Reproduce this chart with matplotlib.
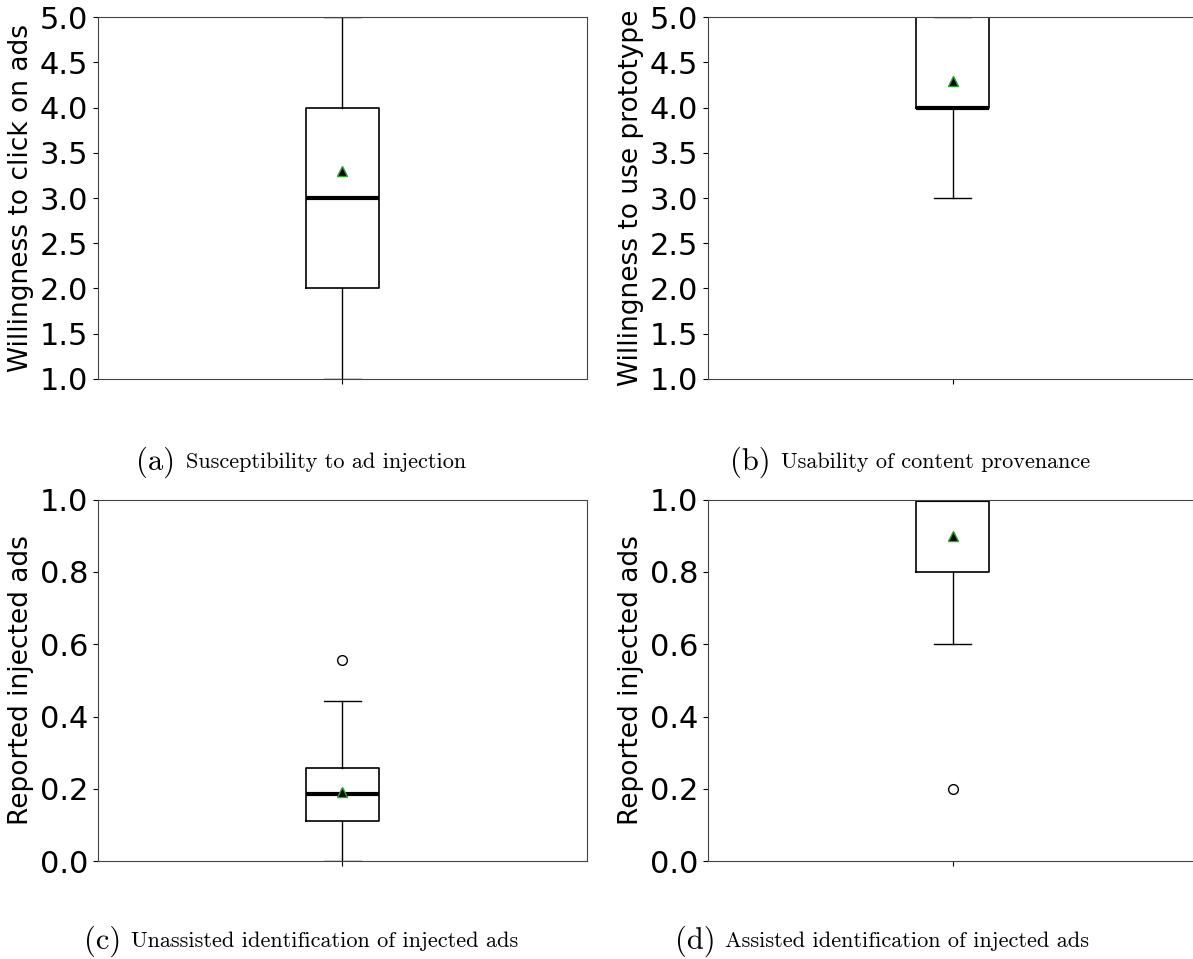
import matplotlib.pyplot as plt

# Five-number summaries, means and outliers for each survey question
panel_ids = ['(a)', '(b)', '(c)', '(d)']
captions = ['Susceptibility to ad injection',
            'Usability of content provenance',
            'Unassisted identification of injected ads',
            'Assisted identification of injected ads']
ylabels = ['Willingness to click on ads',
           'Willingness to use prototype',
           'Reported injected ads',
           'Reported injected ads']

whislo = [1.0, 3.0, 0.0, 0.6]
q1 = [2.0, 4.0, 0.111, 0.8]
med = [3.0, 4.0, 0.185, 1.0]
q3 = [4.0, 5.0, 0.259, 1.0]
whishi = [5.0, 5.0, 0.444, 1.0]
means = [3.3, 4.3, 0.19, 0.9]
fliers = [[], [], [0.556], [0.2]]

ylims = [(1.0, 5.0), (1.0, 5.0), (0.0, 1.0), (0.0, 1.0)]
yticks = [[1.0, 1.5, 2.0, 2.5, 3.0, 3.5, 4.0, 4.5, 5.0],
          [1.0, 1.5, 2.0, 2.5, 3.0, 3.5, 4.0, 4.5, 5.0],
          [0.0, 0.2, 0.4, 0.6, 0.8, 1.0],
          [0.0, 0.2, 0.4, 0.6, 0.8, 1.0]]

W, H = 1193, 959
fig = plt.figure(figsize=(W / 100, H / 100), dpi=100)

axes_rects = [
    [0.082, 0.605, 0.410, 0.377],
    [0.5935, 0.605, 0.410, 0.377],
    [0.082, 0.102, 0.410, 0.377],
    [0.5935, 0.102, 0.410, 0.377],
]
# caption centre (pixels from left) and baseline row for each subfigure
caption_cx = [301, 910, 301, 882]
caption_cy = [0.518, 0.518, 0.0185, 0.0185]

label_texts = []
for i in range(4):
    ax = fig.add_axes(axes_rects[i])
    stats = [{
        'whislo': whislo[i], 'q1': q1[i], 'med': med[i], 'q3': q3[i],
        'whishi': whishi[i], 'mean': means[i], 'fliers': fliers[i],
    }]
    ax.bxp(stats, positions=[1], widths=0.15, showmeans=True,
           boxprops=dict(color='black', linewidth=1.2),
           whiskerprops=dict(color='black', linewidth=1.0),
           capprops=dict(color='black', linewidth=1.0),
           medianprops=dict(color='black', linewidth=3),
           meanprops=dict(marker='^', markerfacecolor='black',
                          markeredgecolor='tab:green', markersize=7),
           flierprops=dict(marker='o', markerfacecolor='none',
                           markeredgecolor='black', markersize=7))
    ax.set_xlim(0.5, 1.5)
    ax.set_ylim(*ylims[i])
    ax.set_yticks(yticks[i])
    ax.set_yticklabels([f'{t:.1f}' for t in yticks[i]])
    ax.set_xticks([1])
    ax.set_xticklabels([''])
    ax.tick_params(axis='y', labelsize=22)
    ax.set_ylabel(ylabels[i], fontsize=19)
    for sp in ax.spines.values():
        sp.set_color('#444444')

    # subfigure caption: big "(x)" tag followed by smaller description
    t_id = fig.text(0, caption_cy[i], panel_ids[i], fontsize=22,
                    family='cmr10', ha='left', va='center')
    t_cap = fig.text(0, caption_cy[i], captions[i], fontsize=16,
                     family='cmr10', ha='left', va='center')
    label_texts.append((t_id, t_cap))

# centre each caption pair under its column
fig.canvas.draw()
renderer = fig.canvas.get_renderer()
gap = 10
for i, (t_id, t_cap) in enumerate(label_texts):
    w_id = t_id.get_window_extent(renderer).width
    w_cap = t_cap.get_window_extent(renderer).width
    x0 = caption_cx[i] - (w_id + gap + w_cap) / 2
    t_id.set_x(x0 / W)
    t_cap.set_x((x0 + w_id + gap) / W)

fig.savefig('out.png', dpi=100)
